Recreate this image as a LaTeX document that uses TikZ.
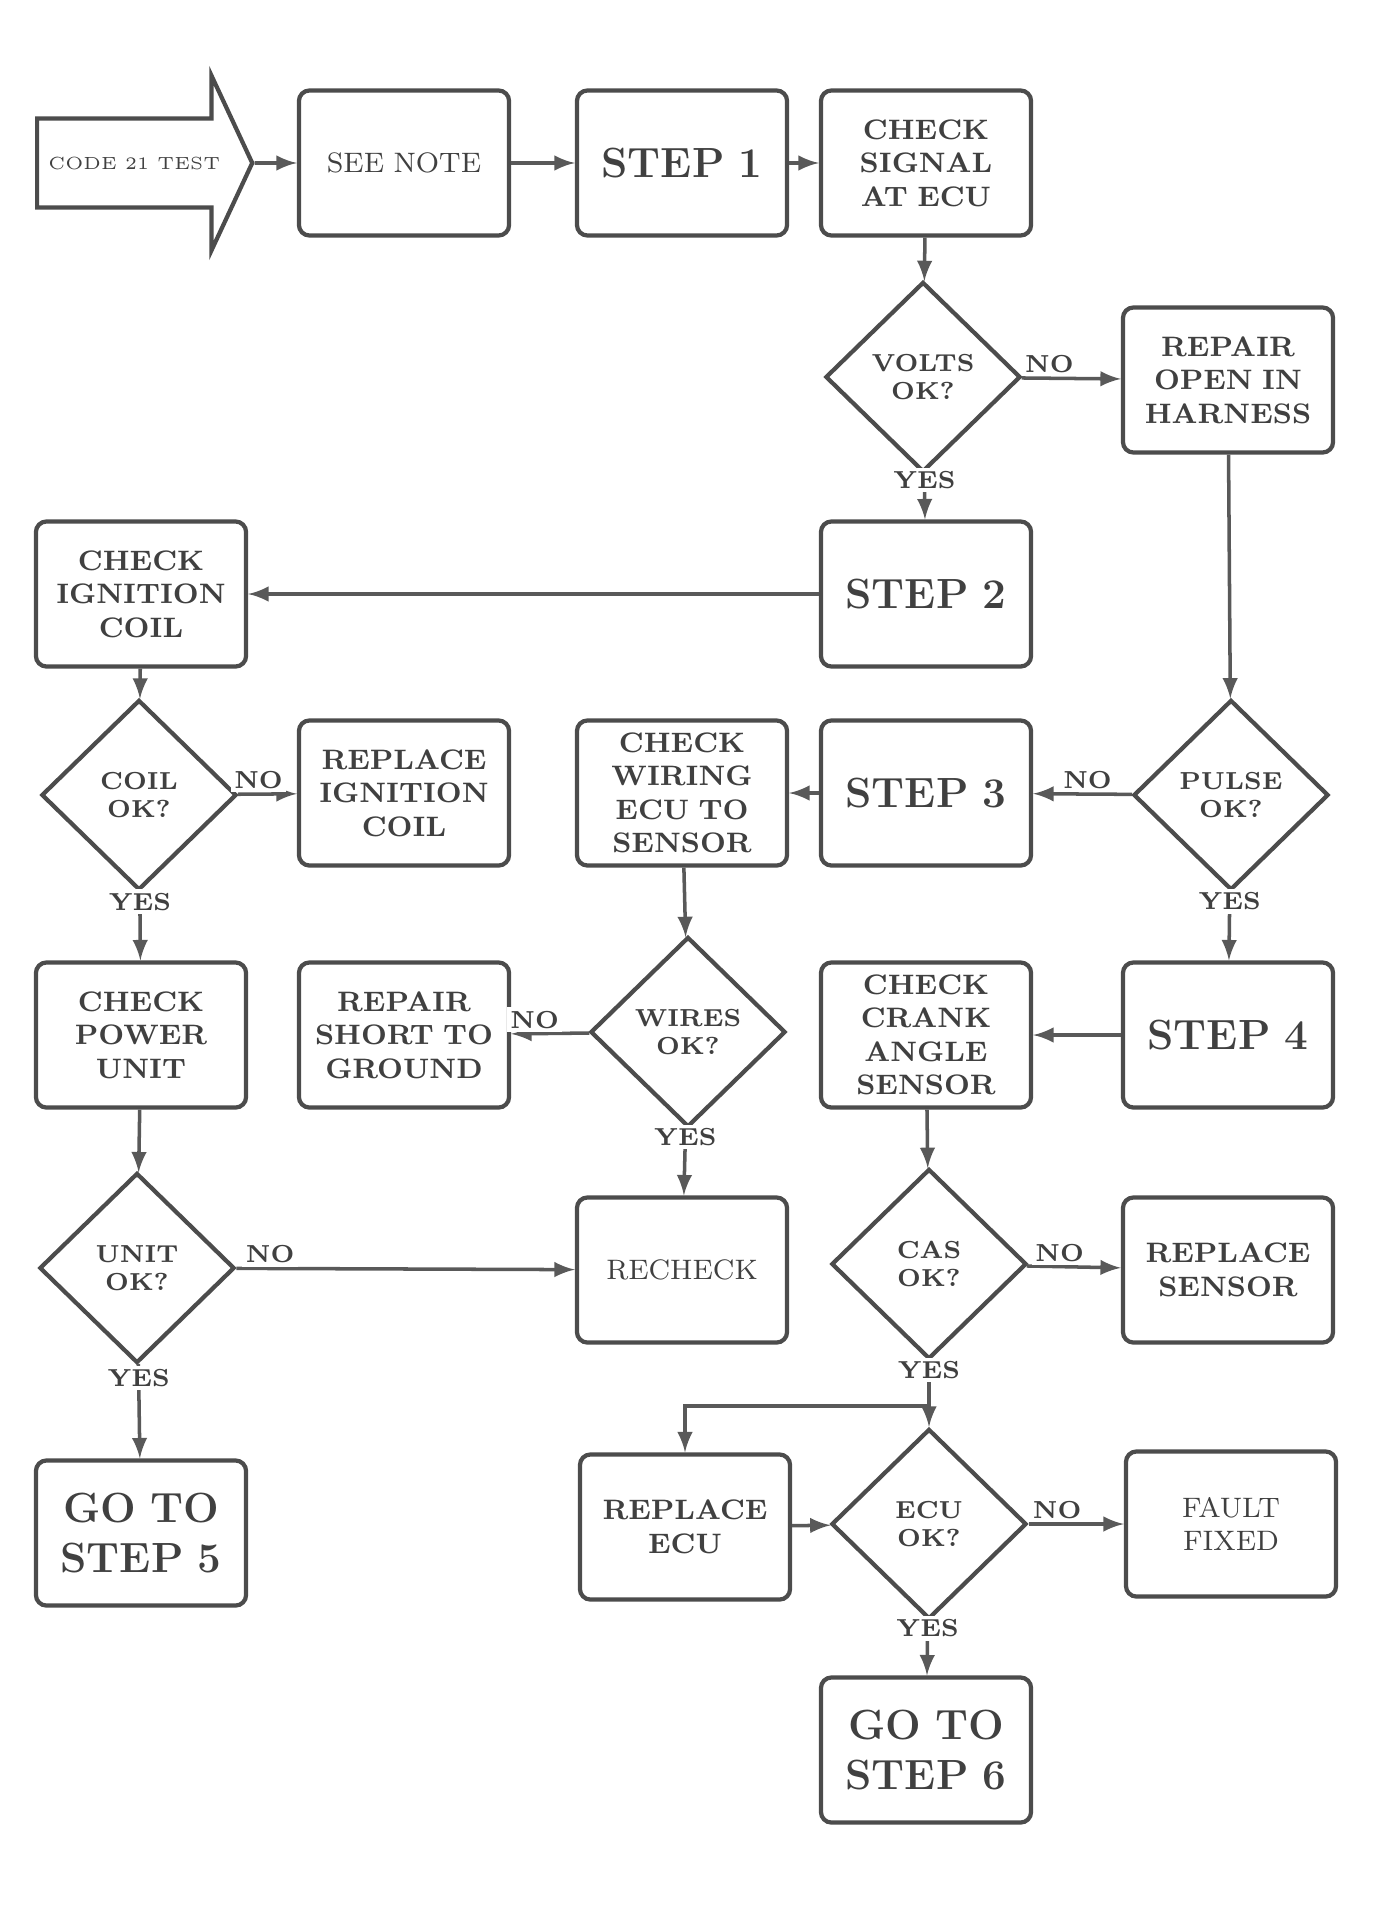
\documentclass[tikz,border=0pt]{standalone}
\usepackage{tikz}
\usetikzlibrary{shapes.geometric,shapes.arrows}

\tikzset{
  box/.style={draw=black!70, line width=1.2pt, rounded corners=3pt, minimum width=2.1cm, minimum height=1.45cm, text width=1.85cm, align=center, font=\footnotesize\bfseries, text=black!75},
  bigbox/.style={box, font=\large\bfseries},
  gobox/.style={box, font=\large\bfseries},
  thinbox/.style={box, font=\footnotesize},
  ask/.style={draw=black!70, line width=1.2pt, diamond, minimum width=1.95cm, minimum height=1.9cm, inner sep=0pt, align=center, font=\scriptsize\bfseries, text=black!75},
  startarrow/.style={draw=black!70, line width=1.2pt, single arrow, single arrow head extend=0.15cm, single arrow head indent=0cm, single arrow tip angle=130, minimum width=1.75cm, minimum height=2.15cm, inner xsep=0pt, inner ysep=2pt, font=\tiny, text=black!75},
  flow/.style={draw=black!65, line width=1pt, ->, >=latex},
  ans/.style={font=\scriptsize\bfseries, text=black!75, fill=white, inner sep=1pt}
}

\begin{document}
\begin{tikzpicture}[x=0.01cm, y=-0.01cm]
  \useasboundingbox (0,0) rectangle (1377,1906);

  % top row
  \node[startarrow, anchor=west] (start) at (35,163) {CODE 21 TEST};
  \node[thinbox] (note) at (404,163) {SEE NOTE};
  \node[bigbox] (s1) at (682,163) {STEP 1};
  \node[box] (chk1) at (926,163) {CHECK SIGNAL AT ECU};

  \node[ask] (q1) at (923,377) {VOLTS\\OK?};
  \node[box] (fix1) at (1228,380) {REPAIR OPEN IN HARNESS};

  \node[box] (chk2) at (141,594) {CHECK IGNITION COIL};
  \node[bigbox] (s2) at (926,594) {STEP 2};

  \node[ask] (q2) at (139,795) {COIL\\OK?};
  \node[box] (rep1) at (404,793) {REPLACE IGNITION COIL};
  \node[box] (chk3) at (682,793) {CHECK WIRING ECU TO SENSOR};
  \node[bigbox] (s3) at (926,793) {STEP 3};
  \node[ask] (q3) at (1231,795) {PULSE\\OK?};

  \node[box] (chk4) at (141,1035) {CHECK POWER UNIT};
  \node[box] (fix2) at (404,1035) {REPAIR SHORT TO GROUND};
  \node[ask] (q4) at (688,1032) {WIRES\\OK?};
  \node[box] (chk5) at (926,1035) {CHECK CRANK ANGLE SENSOR};
  \node[bigbox] (s4) at (1228,1035) {STEP 4};

  \node[ask] (q5) at (137,1268) {UNIT\\OK?};
  \node[thinbox] (rechk) at (682,1270) {RECHECK};
  \node[ask] (q6) at (929,1264) {CAS\\OK?};
  \node[box] (rep2) at (1228,1270) {REPLACE SENSOR};

  \node[gobox] (go5) at (141,1533) {GO TO\\STEP 5};
  \node[box] (rep3) at (685,1527) {REPLACE ECU};
  \node[ask] (q7) at (929,1524) {ECU\\OK?};
  \node[thinbox] (done) at (1231,1524) {FAULT FIXED};

  \node[gobox] (go6) at (926,1750) {GO TO\\STEP 6};

  \coordinate (split) at (929,1406);

  % connectors
  \draw[flow] (start) -- (note);
  \draw[flow] (note) -- (s1);
  \draw[flow] (s1) -- (chk1);
  \draw[flow] (chk1) -- (q1);
  \draw[flow] (q1) -- node[ans, above, pos=0.28] {NO} (fix1);
  \draw[flow] (q1) -- node[ans, pos=0.15] {YES} (s2);
  \draw[flow] (s2) -- (chk2);
  \draw[flow] (chk2) -- (q2);
  \draw[flow] (q2) -- node[ans, above, pos=0.35] {NO} (rep1);
  \draw[flow] (q2) -- node[ans, pos=0.15] {YES} (chk4);
  \draw[flow] (fix1) -- (q3);
  \draw[flow] (q3) -- node[ans, above, pos=0.45] {NO} (s3);
  \draw[flow] (q3) -- node[ans, pos=0.15] {YES} (s4);
  \draw[flow] (s3) -- (chk3);
  \draw[flow] (chk3) -- (q4);
  \draw[flow] (q4) -- node[ans, above, pos=0.7] {NO} (fix2);
  \draw[flow] (q4) -- node[ans, pos=0.15] {YES} (rechk);
  \draw[flow] (s4) -- (chk5);
  \draw[flow] (chk5) -- (q6);
  \draw[flow] (q6) -- node[ans, above, pos=0.35] {NO} (rep2);
  \draw[line width=1pt, black!65] (q6) -- node[ans, pos=0.2] {YES} (split);
  \draw[flow] (split) -- (q7);
  \draw[flow] (split) -| (rep3);
  \draw[flow] (rep3) -- (q7);
  \draw[flow] (chk4) -- (q5);
  \draw[flow] (q5) -- node[ans, above, pos=0.1] {NO} (rechk);
  \draw[flow] (q5) -- node[ans, pos=0.15] {YES} (go5);
  \draw[flow] (q7) -- node[ans, above, pos=0.3] {NO} (done);
  \draw[flow] (q7) -- node[ans, pos=0.15] {YES} (go6);
\end{tikzpicture}
\end{document}
